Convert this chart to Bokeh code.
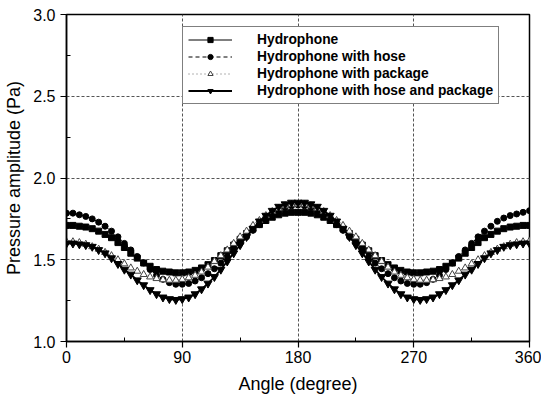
from bokeh.plotting import figure
from bokeh.models import Range1d, FixedTicker, PrintfTickFormatter
from bokeh.embed import file_html
from bokeh.resources import INLINE

angles = list(range(0, 361, 5))

x_ticks = [0, 90, 180, 270, 360]
x_minor = [45, 135, 225, 315]
y_ticks = [1.0, 1.5, 2.0, 2.5, 3.0]
y_minor = [1.25, 1.75, 2.25, 2.75]

labels = ["Hydrophone", "Hydrophone with hose", "Hydrophone with package",
          "Hydrophone with hose and package"]

hydrophone = [1.71, 1.71, 1.705, 1.70, 1.69, 1.675, 1.655, 1.635, 1.605, 1.575,
              1.54, 1.51, 1.48, 1.46, 1.44, 1.43, 1.425, 1.42, 1.42, 1.425,
              1.435, 1.45, 1.47, 1.495, 1.525, 1.555, 1.59, 1.625, 1.66, 1.69,
              1.715, 1.74, 1.76, 1.775, 1.785, 1.79, 1.79,
              1.79, 1.785, 1.775, 1.76, 1.74, 1.715, 1.69, 1.66, 1.625, 1.59,
              1.555, 1.525, 1.495, 1.47, 1.45, 1.435, 1.425, 1.42, 1.42, 1.425,
              1.43, 1.44, 1.46, 1.48, 1.51, 1.54, 1.575, 1.605, 1.635, 1.655,
              1.675, 1.69, 1.70, 1.705, 1.71, 1.71]

with_hose = [1.785, 1.785, 1.775, 1.765, 1.75, 1.73, 1.705, 1.675, 1.64, 1.60,
             1.56, 1.52, 1.48, 1.44, 1.405, 1.38, 1.36, 1.35, 1.35, 1.355,
             1.37, 1.39, 1.415, 1.445, 1.48, 1.52, 1.56, 1.60, 1.64, 1.68,
             1.715, 1.75, 1.78, 1.805, 1.82, 1.83, 1.835,
             1.83, 1.82, 1.805, 1.78, 1.75, 1.715, 1.68, 1.64, 1.60, 1.56,
             1.52, 1.48, 1.445, 1.415, 1.39, 1.37, 1.355, 1.35, 1.35, 1.36,
             1.38, 1.405, 1.44, 1.48, 1.52, 1.56, 1.60, 1.64, 1.675, 1.705,
             1.735, 1.755, 1.77, 1.78, 1.79, 1.80]

with_package = [1.61, 1.61, 1.605, 1.595, 1.58, 1.565, 1.545, 1.525, 1.50, 1.475,
                1.45, 1.43, 1.41, 1.395, 1.385, 1.378, 1.375, 1.375, 1.38, 1.39,
                1.405, 1.425, 1.455, 1.49, 1.525, 1.56, 1.60, 1.64, 1.675, 1.71,
                1.74, 1.77, 1.795, 1.815, 1.83, 1.84, 1.84,
                1.84, 1.83, 1.815, 1.795, 1.77, 1.74, 1.71, 1.675, 1.64, 1.60,
                1.56, 1.525, 1.49, 1.455, 1.425, 1.405, 1.39, 1.38, 1.375, 1.375,
                1.378, 1.385, 1.395, 1.41, 1.43, 1.45, 1.475, 1.50, 1.525, 1.545,
                1.565, 1.58, 1.595, 1.605, 1.61, 1.615]

with_hose_package = [1.60, 1.60, 1.595, 1.59, 1.58, 1.56, 1.54, 1.51, 1.475, 1.44,
                     1.41, 1.375, 1.345, 1.315, 1.29, 1.27, 1.26, 1.255, 1.26, 1.27,
                     1.29, 1.32, 1.355, 1.395, 1.44, 1.49, 1.54, 1.59, 1.64, 1.69,
                     1.735, 1.77, 1.80, 1.825, 1.84, 1.85, 1.85,
                     1.85, 1.84, 1.825, 1.80, 1.77, 1.735, 1.69, 1.64, 1.59, 1.54,
                     1.49, 1.44, 1.395, 1.355, 1.32, 1.29, 1.27, 1.26, 1.255, 1.26,
                     1.27, 1.29, 1.315, 1.345, 1.375, 1.41, 1.44, 1.475, 1.51, 1.54,
                     1.56, 1.58, 1.59, 1.595, 1.60, 1.60]

FONT = "Liberation Sans"

p = figure(width=541, height=398, output_backend="svg", toolbar_location=None,
           x_range=Range1d(0, 360), y_range=Range1d(1.0, 3.0),
           min_border_left=66, min_border_right=12, min_border_top=14,
           min_border_bottom=57)
p.background_fill_color = "white"
p.border_fill_color = "white"
p.outline_line_color = "black"
p.outline_line_width = 1.5
p.outline_line_alpha = 1.0

p.xaxis.ticker = FixedTicker(ticks=x_ticks, minor_ticks=x_minor)
p.yaxis.ticker = FixedTicker(ticks=y_ticks, minor_ticks=y_minor)
p.xaxis.formatter = PrintfTickFormatter(format="%d")
p.yaxis.formatter = PrintfTickFormatter(format="%.1f")
p.xaxis.axis_label = "Angle (degree)"
p.yaxis.axis_label = "Pressure amplitude (Pa)"
for ax in (p.xaxis, p.yaxis):
    ax.axis_line_color = "black"
    ax.axis_line_width = 1.5
    ax.major_tick_line_color = "black"
    ax.major_tick_line_width = 1.2
    ax.major_tick_out = 6
    ax.major_tick_in = 0
    ax.minor_tick_line_color = "black"
    ax.minor_tick_in = 4
    ax.minor_tick_out = 0
    ax.major_label_text_font = FONT
    ax.major_label_text_font_size = "16px"
    ax.major_label_text_color = "black"
    ax.axis_label_text_font = FONT
    ax.axis_label_text_font_size = "18px"
    ax.axis_label_text_font_style = "normal"
    ax.axis_label_text_color = "black"
p.xaxis.major_label_standoff = 3
p.xaxis.axis_label_standoff = 8
p.yaxis.major_label_standoff = 5
p.yaxis.axis_label_standoff = 6

for g in (p.xgrid, p.ygrid):
    g.grid_line_color = "#555555"
    g.grid_line_dash = "3 2"
    g.grid_line_width = 1

# series
p.line(angles, hydrophone, line_color="black", line_width=1, legend_label=labels[0])
p.scatter(angles, hydrophone, marker="square", size=6, fill_color="black",
          line_color="black", legend_label=labels[0])

p.line(angles, with_hose, line_color="black", line_width=1, line_dash="4 3",
       legend_label=labels[1])
p.scatter(angles, with_hose, marker="circle", size=6, fill_color="black",
          line_color="black", legend_label=labels[1])

p.line(angles, with_package, line_color="#666666", line_width=1, line_dash="1 3",
       legend_label=labels[2])
p.scatter(angles, with_package, marker="triangle", size=7, fill_color="white",
          line_color="#444444", line_width=1, legend_label=labels[2])

p.line(angles, with_hose_package, line_color="black", line_width=1.8,
       legend_label=labels[3])
p.scatter(angles, with_hose_package, marker="inverted_triangle", size=8,
          fill_color="black", line_color="black", legend_label=labels[3])

lg = p.legend[0]
lg.location = (116, 237)
lg.margin = 0
lg.padding = 5
lg.spacing = 2
lg.glyph_width = 44
lg.glyph_height = 13
lg.label_height = 13
lg.label_standoff = 25
lg.label_text_font = FONT
lg.label_text_font_size = "13.8px"
lg.label_text_font_style = "bold"
lg.label_text_color = "black"
lg.border_line_color = "black"
lg.border_line_width = 1.5
lg.background_fill_color = "white"
lg.background_fill_alpha = 1.0

open("out.html", "w").write(file_html(p, INLINE))
